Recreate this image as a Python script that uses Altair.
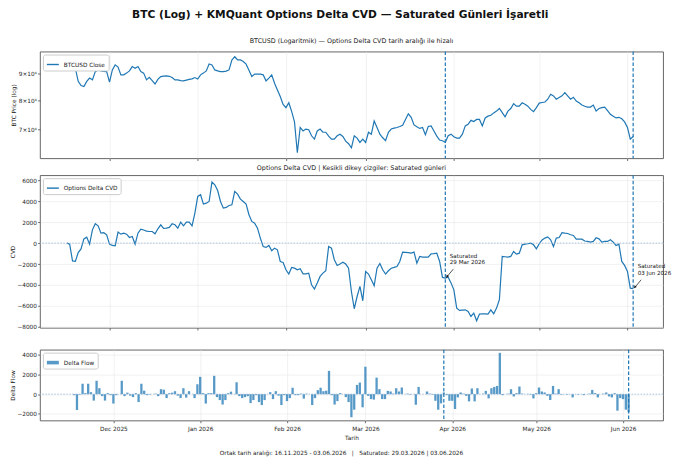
import altair as alt
import pandas as pd

START = "2025-11-16"

btc_close = [
    94000, 92600, 93300, 92300, 87000, 85400, 85000, 87000, 88300, 87600,
    90900, 91600, 91200, 91000, 90900, 86700, 91600, 93700, 92800, 89600,
    89600, 90300, 91200, 93000, 92300, 93000, 90900, 90300, 87600, 88600,
    87300, 86000, 87800, 88900, 89100, 89200, 89000, 88500, 87600, 87600,
    87300, 87200, 87500, 87800, 88000, 88500, 87900, 89600, 90300, 91200,
    94100, 93700, 91600, 91200, 90900, 90900, 91100, 91600, 95800, 97200,
    95800, 95800, 95100, 94000, 91500, 88900, 89900, 89900, 89900, 89600,
    87200, 88300, 89600, 86300, 83700, 81300, 78400, 77300, 79000, 76000,
    72500, 63100, 70700, 69600, 70200, 70000, 68100, 67100, 69600, 70200,
    69200, 69200, 68000, 67100, 67100, 68100, 68600, 67900, 66500, 65700,
    64500, 68100, 67400, 66100, 67100, 66100, 69200, 68600, 72800, 70700,
    68600, 67500, 66600, 69200, 70200, 70500, 70700, 71000, 71400, 73300,
    75200, 74000, 71500, 70900, 70400, 70700, 68400, 71000, 71200, 69600,
    68000, 66800, 66600, 66100, 68100, 68600, 67800, 67400, 67400, 68600,
    71200, 71700, 73000, 72600, 73300, 73300, 71200, 73800, 74400, 74700,
    75500, 76100, 77000, 75600, 74200, 76100, 77000, 78700, 77800, 77800,
    79000, 78500, 77800, 76700, 75900, 77300, 78900, 79100, 79300, 80300,
    82100, 81500, 80300, 80900, 81500, 82700, 81500, 80300, 81000, 79600,
    79000, 78200, 77800, 77500, 77500, 78200, 76100, 77000, 77300, 77500,
    76300, 75000, 74400, 73800, 74000, 73500, 72500, 70700, 67100, 67900,
]

cvd_values = [
    0, -100, -1700, -1750, -900, -550, 400, 570, -100, 1270,
    1850, 1650, 950, 1000, 800, -100, -220, -250, 1050, 860,
    950, 850, 540, 640, -100, 950, 1340, 1250, 1150, 1110,
    1110, 890, 1370, 1750, 1400, 1430, 1500, 1850, 1750, 1430,
    2000, 1650, 2000, 2000, 1650, 2870, 4460, 4620, 3730, 3820,
    3980, 5830, 5570, 5030, 3980, 3340, 3410, 3600, 3660, 4940,
    4680, 4200, 3980, 3730, 2710, 2070, 1910, 1430, 480, -320,
    -410, -220, -730, -480, -640, -1750, -1850, -2550, -2960, -2320,
    -2390, -2550, -2450, -2930, -2930, -2870, -3980, -4390, -3820, -3180,
    -2870, -2640, -320, -480, -1590, -2130, -2000, -1820, -2000, -2390,
    -4620, -6270, -5100, -4140, -5510, -2710, -2960, -3500, -4080, -2390,
    -1940, -2550, -2960, -2640, -2400, -2320, -2230, -1750, -860, -880,
    -900, -960, -860, -1910, -1270, -1340, -1340, -1340, -1020, -1000,
    -960, -1750, -3280, -3340, -3250, -3800, -4460, -6210, -6430, -6400,
    -6370, -6530, -7010, -6690, -7420, -6780, -6750, -6760, -6780, -6370,
    -6750, -6210, -5410, -1270, -1300, -1340, -1270, -800, -1050, -960,
    -160, -100, -60, 0, -160, -540, -60, 300, 480, 600,
    320, -320, 480, 540, 990, 950, 920, 800, 730, 380,
    380, 380, 200, 160, 100, 160, 510, 410, 100, 160,
    160, 320, 100, -220, -100, -1750, -2130, -2710, -4300, -4360,
]

delta_flow = [
    0, -100, -1600, -50, 1050, 100, 1050, 200, -650, 1350,
    600, -200, -650, 100, -100, -950, -100, 0, 1350, -200,
    150, -150, -300, 100, -800, 1050, 350, -100, -50, 0,
    50, -200, 500, 450, -400, 100, 150, 300, -150, -400,
    600, -350, 300, 0, -400, 1000, 1750, 100, -950, 100,
    100, 1850, -300, -600, -1050, -600, 100, 250, 0, 1200,
    -200, -400, -300, -200, -900, -600, -100, -800, -1100, -600,
    0, 200, -500, 300, -150, -1100, -100, -700, -400, 650,
    -100, -100, 50, -450, 50, 0, -1100, -400, 400, 650,
    300, 350, 2350, -100, -1050, -700, 100, 0, -300, -800,
    -2330, -1570, 930, 1170, -1330, 2770, -170, -500, -550, 1670,
    500, -500, -500, 330, 270, 50, 600, 270, 670, 0,
    50, -50, 0, -1070, 730, 0, 0, 270, 50, -50,
    -670, -1570, -930, 170, -100, -670, -670, -1500, -330, 170,
    50, -170, -730, 570, -730, 600, 0, 50, 330, -430,
    600, 730, 830, 4170, -100, 0, 50, 500, -230, 100,
    770, 50, 0, 30, -50, -430, 100, 670, 270, 170,
    -170, -600, 830, 50, 500, -50, 0, -50, 0, -330,
    0, -50, 0, -100, 0, 50, 430, 100, -330, 0,
    50, 170, -230, -330, 100, -1670, -400, -500, -1570, -1830,
]

saturated_dates = ["2026-03-29", "2026-06-03"]
saturated_labels = ["Saturated\n29 Mar 2026", "Saturated\n03 Jun 2026"]
month_ticks = ["2025-12-01", "2026-01-01", "2026-02-01", "2026-03-01",
               "2026-04-01", "2026-05-01", "2026-06-01"]
btc_ticks = [70000, 80000, 90000]
cvd_ticks = [-8000, -6000, -4000, -2000, 0, 2000, 4000, 6000]
flow_ticks = [-2000, 0, 2000, 4000]

BLUE = "#1f77b4"
FS = 5.8

dates = pd.date_range(START, periods=len(cvd_values), freq="D")
df = pd.DataFrame({"date": dates, "btc": btc_close, "cvd": cvd_values, "flow": delta_flow})
df["s_btc"] = "BTCUSD Close"
df["s_cvd"] = "Options Delta CVD"
df["s_flow"] = "Delta Flow"

sat = pd.DataFrame({"date": pd.to_datetime(saturated_dates), "label": saturated_labels})
sat = sat.merge(df[["date", "cvd"]], on="date", how="left")
zero_df = pd.DataFrame({"v": [0]})


def dt(s):
    t = pd.Timestamp(s)
    return alt.DateTime(year=t.year, month=t.month, date=t.day, hours=t.hour, minutes=t.minute)


xs = alt.Scale(domain=[dt("2025-11-06 13:00"), dt("2026-06-13 12:00")])
tick_vals = [dt(m) for m in month_ticks]

W = 625


def legend(symbol="stroke"):
    return alt.Legend(orient="top-left", title=None, offset=3, fillColor="white",
                      strokeColor="#cccccc", cornerRadius=2, padding=3,
                      labelFontSize=FS, labelColor="#222", symbolType=symbol,
                      symbolSize=144, symbolStrokeWidth=1.4, labelOffset=4,
                      labelLimit=300, symbolOpacity=0.75 if symbol != "stroke" else 1)


def yaxis(values, title, **kw):
    return alt.Axis(values=values, title=title, tickCount=20, labelOverlap=False,
                    minExtent=0, labelPadding=1.2, titlePadding=1.5, tickSize=2.3, **kw)


def x_hidden():
    return alt.X("date:T", scale=xs, axis=alt.Axis(values=tick_vals, labels=False, title=None,
                                                   grid=True, tickSize=2.3))


vlines = alt.Chart(sat).mark_rule(color=BLUE, strokeDash=[3.5, 2], strokeWidth=1.2).encode(
    x=alt.X("date:T", scale=xs))
zero = alt.Chart(zero_df).mark_rule(color="#9ab8d8", strokeDash=[1.5, 1.5], strokeWidth=0.8).encode(
    y="v:Q")

# Panel 1: BTC log
btc_line = alt.Chart(df).mark_line(strokeWidth=1.2).encode(
    x=x_hidden(),
    y=alt.Y("btc:Q", scale=alt.Scale(type="log", domain=[61560, 99500], nice=False),
            axis=yaxis(btc_ticks, "BTC Price (log)", grid=False,
                       labelExpr="format(datum.value / 10000, 'd') + '×10⁴'")),
    color=alt.Color("s_btc:N", scale=alt.Scale(range=[BLUE]), legend=legend()),
)
p1 = alt.layer(btc_line, vlines).properties(
    width=W, height=107,
    title=alt.TitleParams("BTCUSD (Logaritmik) — Options Delta CVD tarih aralığı ile hizalı",
                          fontSize=6.4, offset=6.4, fontWeight="normal"))

# Panel 2: CVD
cvd_line = alt.Chart(df).mark_line(strokeWidth=1.2).encode(
    x=x_hidden(),
    y=alt.Y("cvd:Q", scale=alt.Scale(domain=[-8082, 6492], nice=False),
            axis=yaxis(cvd_ticks, "CVD", format="d")),
    color=alt.Color("s_cvd:N", scale=alt.Scale(range=[BLUE]), legend=legend()),
)
ann_text = alt.Chart(sat).mark_text(align="left", baseline="top", dx=4.5, dy=-24.5,
                                    fontSize=5.6, lineBreak="\n", lineHeight=6.5,
                                    color="#111").encode(
    x=alt.X("date:T", scale=xs), y=alt.Y("cvd:Q"), text="label:N")
ann_arrow = alt.Chart(sat).mark_rule(color="#111", strokeWidth=0.7, xOffset=1, yOffset=-0.5,
                                     x2Offset=8, y2Offset=-9).encode(
    x=alt.X("date:T", scale=xs), y="cvd:Q", x2="date:T", y2="cvd:Q")
ann_head = alt.Chart(sat).mark_point(shape="triangle", filled=True, size=9, angle=218,
                                     color="#111", opacity=1, xOffset=2, yOffset=-2).encode(
    x=alt.X("date:T", scale=xs), y="cvd:Q")
p2 = alt.layer(cvd_line, zero, vlines, ann_arrow, ann_head, ann_text).properties(
    width=W, height=153,
    title=alt.TitleParams("Options Delta CVD | Kesikli dikey çizgiler: Saturated günleri",
                          fontSize=6.4, offset=3.5, fontWeight="normal"))

# Panel 3: delta flow bars
bars = alt.Chart(df).mark_bar(width=2.3, opacity=0.75).encode(
    x=alt.X("date:T", scale=xs,
            axis=alt.Axis(values=tick_vals, format="%b %Y", title="Tarih", grid=True,
                          labelPadding=2.5, titlePadding=3.5, tickSize=2.3)),
    y=alt.Y("flow:Q", scale=alt.Scale(domain=[-2655, 4495], nice=False),
            axis=yaxis(flow_ticks, "Delta Flow", format="d")),
    y2=alt.datum(0),
    color=alt.Color("s_flow:N", scale=alt.Scale(range=[BLUE]),
                    legend=legend("M-1,-0.3H1V0.3H-1Z")),
)
p3 = alt.layer(bars, zero, vlines).properties(
    width=W, height=71,
    title=alt.TitleParams(
        "Ortak tarih aralığı: 16.11.2025 - 03.06.2026 \u00a0 | \u00a0 Saturated: 29.03.2026 | 03.06.2026",
        orient="bottom", fontSize=FS, offset=10, fontWeight="normal", dx=-10))

top = alt.vconcat(p1, p2, spacing=2).resolve_scale(color="independent", y="independent")
chart = alt.vconcat(top, p3, spacing=16).resolve_scale(color="independent", y="independent").properties(
    padding=0,
    title=alt.TitleParams("BTC (Log) + KMQuant Options Delta CVD — Saturated Günleri İşaretli",
                          fontSize=10.7, fontWeight="bold", offset=17, anchor="middle", color="#111"),
).configure(font="DejaVu Sans").configure_view(stroke="#555", strokeWidth=0.9).configure_axis(
    labelFontSize=FS, titleFontSize=FS, titleFontWeight="normal", labelColor="#222",
    titleColor="#222", tickColor="#333", tickWidth=0.7, gridColor="#e8e8e8",
    gridWidth=0.6, domain=False, labelOverlap=False,
).configure_axisY(minExtent=0).configure_title(color="#222", font="DejaVu Sans")

chart.save("out.html", embed_options={"renderer": "svg", "actions": False})
